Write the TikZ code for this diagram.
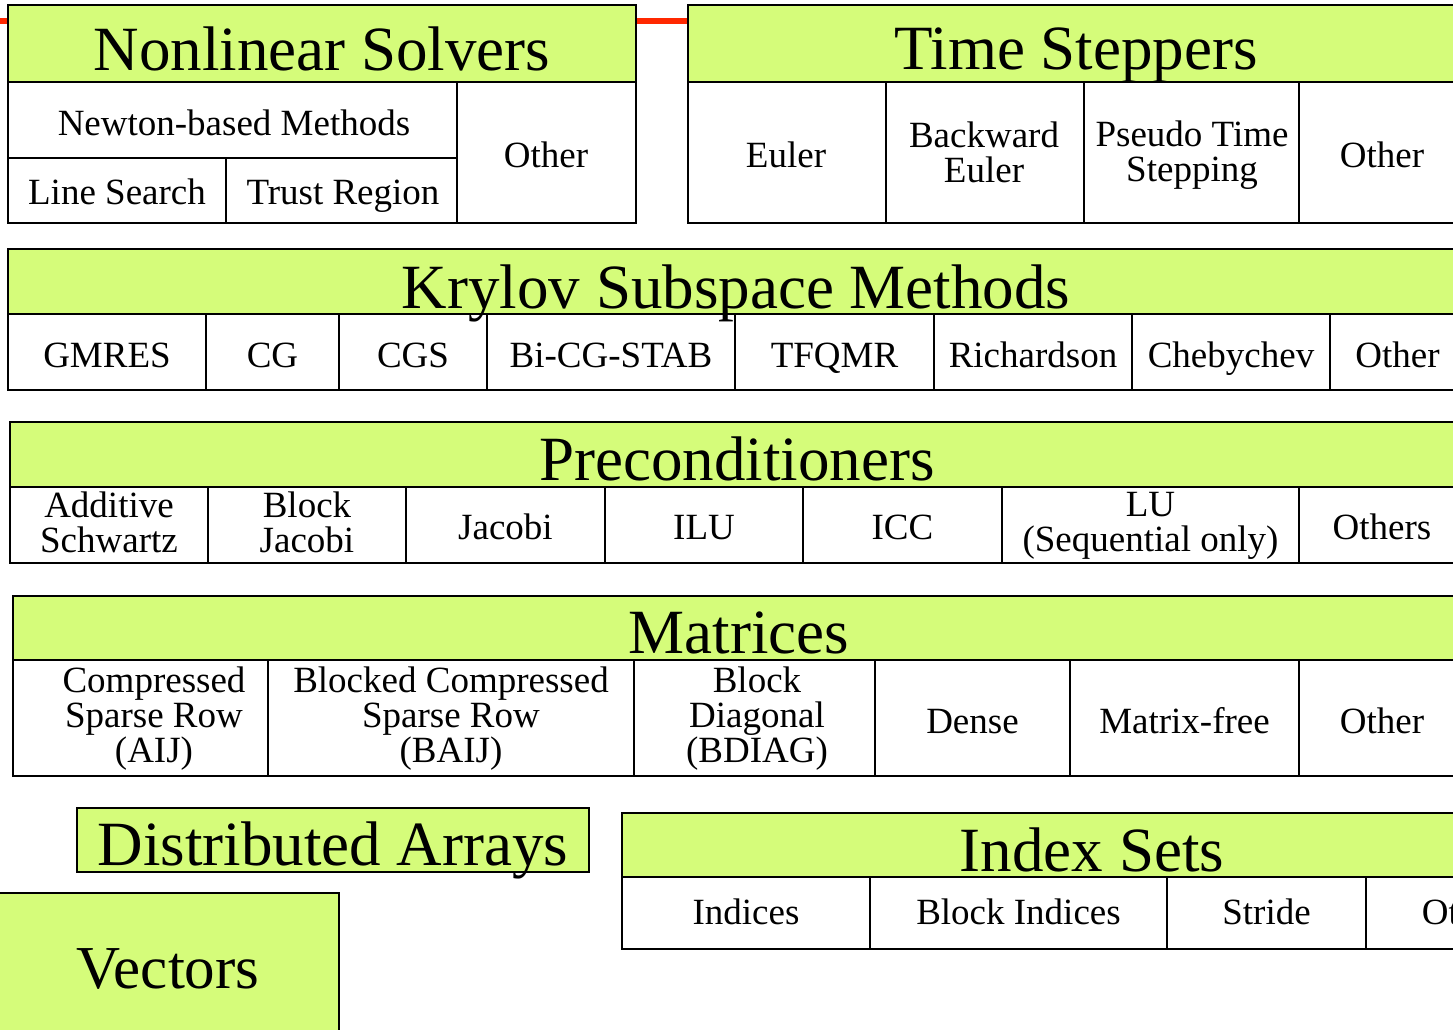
\documentclass[tikz,border=0pt]{standalone}
\usepackage{fontspec}
\setmainfont{Liberation Serif}
\definecolor{limeg}{RGB}{213,252,122}
\definecolor{redl}{RGB}{255,40,0}
\begin{document}
\begin{tikzpicture}[x=1pt,y=-1pt,
  frame/.style={draw=black,line width=2.5pt},
  hdrfill/.style={frame,fill=limeg},
  cellfill/.style={frame,fill=white},
  sep/.style={draw=black,line width=2.2pt},
  big/.style={inner sep=0pt,font=\fontsize{63}{63}\selectfont,anchor=base},
  sm/.style={inner sep=0pt,font=\fontsize{37}{35}\selectfont,anchor=base},
  smc/.style={inner sep=0pt,font=\fontsize{37}{35}\selectfont,align=center,anchor=center},
  redline/.style={draw=redl,line width=6pt}]
\useasboundingbox (0,0) rectangle (1453,1029);
\clip (0,0) rectangle (1453,1029);

% red line behind the top boxes
\coordinate (r0) at (0,20.5);
\coordinate (r1) at (700,20.5);
\draw[redline] (r0) -- (r1);

% ---------------- Nonlinear Solvers
\draw[cellfill] (8,5) rectangle (636,223);
\draw[hdrfill] (8,5) rectangle (636,82);
\draw[sep] (8,158) -- (457,158);
\draw[sep] (226,158) -- (226,223);
\draw[sep] (457,82) -- (457,223);
\node[big] (ns) at (322,70) {Nonlinear Solvers};
\node[sm] (newton) at (234,135) {Newton-based Methods};
\node[sm] (linesearch) at (117,204) {Line Search};
\node[sm] (trust) at (343,204) {Trust Region};
\node[sm] (nsother) at (546,167) {Other};

% ---------------- Time Steppers
\draw[cellfill] (688,5) rectangle (1465,223);
\draw[hdrfill] (688,5) rectangle (1465,82);
\foreach \x in {886,1084,1299} \draw[sep] (\x,82) -- (\x,223);
\node[big] (ts) at (1076,69) {Time Steppers};
\node[sm] (euler) at (786,167) {Euler};
\node[smc] (beuler) at (984,152) {Backward\\Euler};
\node[smc] (pseudo) at (1192,155) {Pseudo Time\\Stepping};
\node[sm] (tsother) at (1382,167) {Other};

% ---------------- Krylov Subspace Methods
\draw[cellfill] (8,249) rectangle (1465,390);
\draw[hdrfill] (8,249) rectangle (1465,314);
\foreach \x in {206,339,487,735,934,1132,1330} \draw[sep] (\x,314) -- (\x,390);
\node[big] (ksp) at (736,308) {Krylov Subspace Methods};
\node[sm] (gmres) at (107,367) {GMRES};
\node[sm] (cg) at (272.5,367) {CG};
\node[sm] (cgs) at (413,367) {CGS};
\node[sm] (bicg) at (611,367) {Bi-CG-STAB};
\node[sm] (tfqmr) at (834.5,367) {TFQMR};
\node[sm] (rich) at (1033,367) {Richardson};
\node[sm] (cheb) at (1231,367) {Chebychev};
\node[sm] (kspother) at (1397.5,367) {Other};

% ---------------- Preconditioners
\draw[cellfill] (10,422) rectangle (1465,563);
\draw[hdrfill] (10,422) rectangle (1465,487);
\foreach \x in {208,406,605,803,1002,1299} \draw[sep] (\x,487) -- (\x,563);
\node[big] (pc) at (737,480) {Preconditioners};
\node[smc] (asm) at (109,522) {Additive\\Schwartz};
\node[smc] (bjacobi) at (307,522) {Block\\Jacobi};
\node[sm] (jacobi) at (505.5,539) {Jacobi};
\node[sm] (ilu) at (704,539) {ILU};
\node[sm] (icc) at (902.5,539) {ICC};
\node[smc] (lu) at (1150.5,526) {LU\\(Sequential only)};
\node[sm] (pcother) at (1382,539) {Others};

% ---------------- Matrices
\draw[cellfill] (13,596) rectangle (1465,776);
\draw[hdrfill] (13,596) rectangle (1465,660);
\foreach \x in {268,634,875,1070,1299} \draw[sep] (\x,660) -- (\x,776);
\node[big] (mat) at (739,653) {Matrices};
\node[smc] (aij) at (154,719) {Compressed\\Sparse Row\\(AIJ)};
\node[smc] (baij) at (451,719) {Blocked Compressed\\Sparse Row\\(BAIJ)};
\node[smc] (bdiag) at (757,719) {Block\\Diagonal\\(BDIAG)};
\node[sm] (dense) at (972.5,733) {Dense};
\node[sm] (mfree) at (1184.5,733) {Matrix-free};
\node[sm] (matother) at (1382,733) {Other};

% ---------------- Distributed Arrays
\draw[hdrfill] (77,808) rectangle (589,872);
\node[big] (da) at (333,865) {Distributed Arrays};

% ---------------- Index Sets
\draw[cellfill] (622,813) rectangle (1562,949);
\draw[hdrfill] (622,813) rectangle (1562,877);
\foreach \x in {870,1167,1366} \draw[sep] (\x,877) -- (\x,949);
\node[big] (is) at (1092,871) {Index Sets};
\node[sm] (indices) at (746,924) {Indices};
\node[sm] (bindices) at (1018.5,924) {Block Indices};
\node[sm] (stride) at (1266.5,924) {Stride};
\node[sm] (isother) at (1464,924) {Other};

% ---------------- Vectors
\draw[hdrfill] (-5,893) rectangle (339,1080);
\node[big,font=\fontsize{61}{61}\selectfont] (vec) at (168,988) {Vectors};
\end{tikzpicture}
\end{document}
